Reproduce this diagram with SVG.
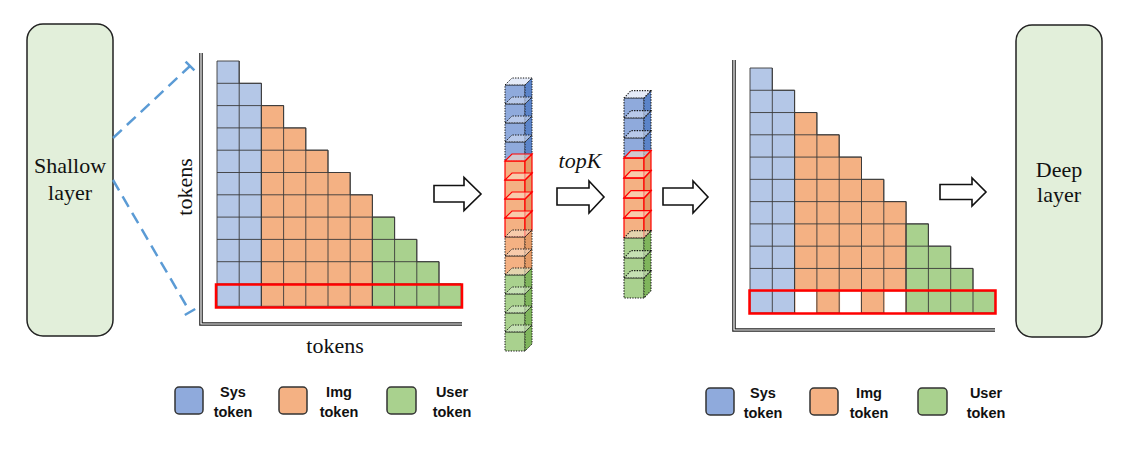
<svg xmlns="http://www.w3.org/2000/svg" xmlns:xlink="http://www.w3.org/1999/xlink" width="1129" height="465" viewBox="0 0 1129 465">
<style>
.layer{fill:#e2efda;stroke:#222;stroke-width:1.5}
.serif{font-family:"Liberation Serif","Times New Roman",serif;font-size:22px;fill:#111}
.leg{font-family:"Liberation Sans",Arial,sans-serif;font-size:14.5px;font-weight:bold;fill:#111;text-anchor:middle}
.lb{stroke:#333;stroke-width:1.5}
.cb{fill:#b4c7e7}.co{fill:#f4b183}.cg{fill:#a9d18e}
.reg{stroke:#3a3a3a;stroke-width:0.9;vector-effect:non-scaling-stroke}
.grid{fill:none;stroke:#3a3a3a;stroke-width:0.9;vector-effect:non-scaling-stroke}
.sel{fill:none;stroke:#ff0000;stroke-width:2.5}
.axo{stroke:#222;stroke-width:3.6;fill:none}
.axi{stroke:#fff;stroke-width:1.2;fill:none}
.dash{stroke:#5b9bd5;stroke-width:2.5;stroke-dasharray:12 7;fill:none}
.tick{stroke:#5b9bd5;stroke-width:2.5;fill:none}
.barrow{fill:#fff;stroke:#111;stroke-width:1.6;stroke-linejoin:miter}
.dot{stroke:#111;stroke-width:1;stroke-dasharray:1.3 1.3}
.red{stroke:#ff0000;stroke-width:1.2}
.top{fill-opacity:0.6}
</style>
<defs>
<g id="cubeB">
<rect x="0" y="0" width="20" height="19" fill="#8faadc" class="dot"/>
<polygon points="20,0 27,-7 27,12 20,19" fill="#5b84c9" class="dot"/>
<polygon points="0,0 7,-7 27,-7 20,0" fill="#d3def3" class="dot top"/>
</g>
<g id="cubeR">
<rect x="0" y="0" width="20" height="19" fill="#f4b183" class="red"/>
<polygon points="20,0 27,-7 27,12 20,19" fill="#e39a66" class="red"/>
<polygon points="0,0 7,-7 27,-7 20,0" fill="#fadcc6" class="red top"/>
</g>
<g id="cubeO">
<rect x="0" y="0" width="20" height="19" fill="#f4b183" class="dot"/>
<polygon points="20,0 27,-7 27,12 20,19" fill="#e39a66" class="dot"/>
<polygon points="0,0 7,-7 27,-7 20,0" fill="#fadcc6" class="dot top"/>
</g>
<g id="cubeG">
<rect x="0" y="0" width="20" height="19" fill="#a9d18e" class="dot"/>
<polygon points="20,0 27,-7 27,12 20,19" fill="#7fb55c" class="dot"/>
<polygon points="0,0 7,-7 27,-7 20,0" fill="#d9ebcc" class="dot top"/>
</g>
</defs>
<rect width="1129" height="465" fill="#fff"/>

<g id="shallow-layer">
<rect class="layer" x="27" y="24" width="86" height="312" rx="16"/>
<text class="serif" x="70" y="173" text-anchor="middle">Shallow</text>
<text class="serif" x="70" y="200" text-anchor="middle">layer</text>
</g>

<g id="deep-layer">
<rect class="layer" x="1016" y="25" width="86" height="312" rx="16"/>
<text class="serif" x="1059" y="177" text-anchor="middle">Deep</text>
<text class="serif" x="1059" y="202" text-anchor="middle">layer</text>
</g>

<g id="connectors">
<line class="dash" x1="113" y1="138" x2="190" y2="66"/>
<line class="tick" x1="185.6" y1="61.6" x2="194.4" y2="70.4"/>
<line class="dash" x1="113" y1="180" x2="190" y2="312"/>
<line class="tick" x1="184.8" y1="315" x2="195.2" y2="309"/>
<path class="barrow" d="M434,185.5 H464 V177.5 L481,194 L464,210.5 V202 H434 Z"/>
<path class="barrow" d="M557,188 H589 V181 L604,197 L589,213 V205 H557 Z"/>
<path class="barrow" d="M663,188 H693 V181 L708,197 L693,213 V205 H663 Z"/>
<path class="barrow" d="M940,184.5 H972 V178 L986,192 L972,206 V199.5 H940 Z"/>
</g>

<g id="attn-matrix-left">
<polyline class="axo" points="201,53 201,324 462,324"/>
<polyline class="axi" points="201,53 201,324 462,324"/>
<g transform="translate(217,61) scale(22.2,22.3)">
<polygon class="cb reg" points="0,0 1,0 1,1 2,1 2,11 0,11"/>
<polygon class="co reg" points="2,2 3,2 3,3 4,3 4,4 5,4 5,5 6,5 6,6 7,6 7,11 2,11"/>
<polygon class="cg reg" points="7,7 8,7 8,8 9,8 9,9 10,9 10,10 11,10 11,11 7,11"/>
<path class="grid" d="M0,1H2M0,2H3M0,3H4M0,4H5M0,5H6M0,6H7M0,7H8M0,8H9M0,9H10M0,10H11M1,0V11M2,1V11M3,2V11M4,3V11M5,4V11M6,5V11M7,6V11M8,7V11M9,8V11M10,9V11"/>
</g>
<rect class="sel" x="216" y="284.5" width="246" height="23"/>
<text class="serif" x="335" y="353" text-anchor="middle">tokens</text>
<text class="serif" x="0" y="0" text-anchor="middle" transform="translate(192,187) rotate(-90)">tokens</text>
</g>

<g id="kv-stack-full">
<use xlink:href="#cubeB" x="505" y="85"/>
<use xlink:href="#cubeB" x="505" y="104"/>
<use xlink:href="#cubeB" x="505" y="123"/>
<use xlink:href="#cubeB" x="505" y="142"/>
<use xlink:href="#cubeR" x="505" y="161"/>
<use xlink:href="#cubeR" x="505" y="180"/>
<use xlink:href="#cubeR" x="505" y="199"/>
<use xlink:href="#cubeR" x="505" y="218"/>
<use xlink:href="#cubeO" x="505" y="237"/>
<use xlink:href="#cubeO" x="505" y="256"/>
<use xlink:href="#cubeG" x="505" y="275"/>
<use xlink:href="#cubeG" x="505" y="294"/>
<use xlink:href="#cubeG" x="505" y="313"/>
<use xlink:href="#cubeG" x="505" y="332"/>
</g>

<g id="topk-label">
<text class="serif" x="580" y="168" text-anchor="middle" font-style="italic">topK</text>
</g>

<g id="kv-stack-topk" transform="translate(624,98) scale(1,1.0526)">
<use xlink:href="#cubeB" x="0" y="0"/>
<use xlink:href="#cubeB" x="0" y="19"/>
<use xlink:href="#cubeB" x="0" y="38"/>
<use xlink:href="#cubeR" x="0" y="57"/>
<use xlink:href="#cubeR" x="0" y="76"/>
<use xlink:href="#cubeR" x="0" y="95"/>
<use xlink:href="#cubeR" x="0" y="114"/>
<use xlink:href="#cubeG" x="0" y="133"/>
<use xlink:href="#cubeG" x="0" y="152"/>
<use xlink:href="#cubeG" x="0" y="171"/>
</g>

<g id="attn-matrix-right">
<polyline class="axo" points="734,60 734,330 995,330"/>
<polyline class="axi" points="734,60 734,330 995,330"/>
<g transform="translate(750,68) scale(22.3,22.27)">
<polygon class="cb reg" points="0,0 1,0 1,1 2,1 2,11 0,11"/>
<polygon class="co reg" points="2,2 3,2 3,3 4,3 4,4 5,4 5,5 6,5 6,6 7,6 7,11 2,11"/>
<polygon class="cg reg" points="7,7 8,7 8,8 9,8 9,9 10,9 10,10 11,10 11,11 7,11"/>
<path class="grid" d="M0,1H2M0,2H3M0,3H4M0,4H5M0,5H6M0,6H7M0,7H8M0,8H9M0,9H10M0,10H11M1,0V11M2,1V11M3,2V11M4,3V11M5,4V11M6,5V11M7,6V11M8,7V11M9,8V11M10,9V11"/>
<rect x="2.04" y="10.04" width="0.92" height="0.96" fill="#fff"/>
<rect x="4.04" y="10.04" width="0.92" height="0.96" fill="#fff"/>
<rect x="6.04" y="10.04" width="0.92" height="0.96" fill="#fff"/>
</g>
<rect class="sel" x="749.5" y="290.5" width="246" height="23"/>
</g>

<g id="legend-left">
<rect class="lb" x="175" y="387" width="28" height="27" rx="4" fill="#8faadc"/>
<text class="leg" x="233" y="397">Sys</text>
<text class="leg" x="233" y="417">token</text>
<rect class="lb" x="279" y="387" width="28" height="27" rx="4" fill="#f4b183"/>
<text class="leg" x="339" y="397">Img</text>
<text class="leg" x="339" y="417">token</text>
<rect class="lb" x="387" y="387" width="29" height="27" rx="4" fill="#a9d18e"/>
<text class="leg" x="452" y="397">User</text>
<text class="leg" x="452" y="417">token</text>
</g>

<g id="legend-right">
<rect class="lb" x="706" y="388" width="28" height="27" rx="4" fill="#8faadc"/>
<text class="leg" x="763" y="398">Sys</text>
<text class="leg" x="763" y="418">token</text>
<rect class="lb" x="810" y="388" width="28" height="27" rx="4" fill="#f4b183"/>
<text class="leg" x="869" y="398">Img</text>
<text class="leg" x="869" y="418">token</text>
<rect class="lb" x="918" y="388" width="29" height="27" rx="4" fill="#a9d18e"/>
<text class="leg" x="986" y="398">User</text>
<text class="leg" x="986" y="418">token</text>
</g>
</svg>
